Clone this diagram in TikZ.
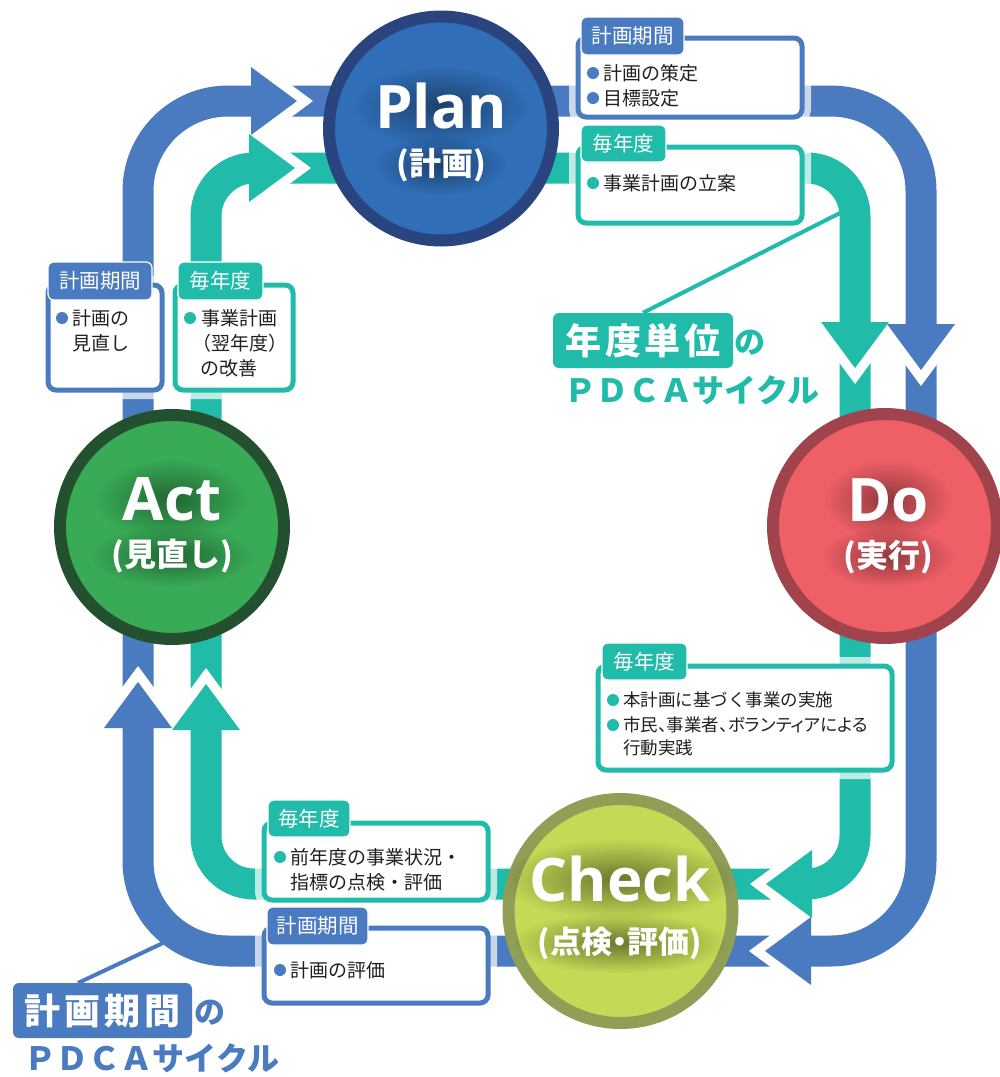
\documentclass[tikz,border=0pt]{standalone}
\usepackage{fontspec}
\setmainfont{Open Sans}
\newfontfamily\jp{Noto Sans CJK JP}
\newfontfamily\jpp[RawFeature=+palt]{Noto Sans CJK JP}
\newfontfamily\lat{Open Sans}
\usetikzlibrary{fadings}
\tikzfading[name=glowfade, inner color=transparent!0, outer color=transparent!100]
\definecolor{bl}{HTML}{4A7ABF}
\definecolor{tl}{HTML}{21BBA9}
\definecolor{planF}{HTML}{306EB7}
\definecolor{planB}{HTML}{29447F}
\definecolor{doF}{HTML}{EE5F66}
\definecolor{doB}{HTML}{A0434C}
\definecolor{actF}{HTML}{39AA56}
\definecolor{actB}{HTML}{23512F}
\definecolor{chkF}{HTML}{C4D955}
\definecolor{chkB}{HTML}{909E56}
\definecolor{ink}{HTML}{231F20}
\newcommand\flowarrow[4]{%
  \begin{scope}[shift={(#2,#3)},rotate=#4]
    \fill[white] (16,0)--(-30,34)--(-30,-34)--cycle;
    \fill[#1] (0,0)--(-46,34)--(-46,-34)--cycle;
  \end{scope}}
% soft dark glow behind a circle caption: coordinate, half width, half height, opacity
\newcommand\glowblob[4]{%
  \fill[black,opacity=#4,path fading=glowfade] ([xshift=-#2pt,yshift=-#3pt]#1) rectangle ([xshift=#2pt,yshift=#3pt]#1);}
\begin{document}
\begin{tikzpicture}[x=1pt,y=-1pt,
  band/.style={draw=#1,line width=31pt},
  pdca/.style={circle,inner sep=0pt,line width=12pt,minimum size=224pt},
  captext/.style={text=white,inner sep=0pt,font=\fontsize{60}{60}\selectfont\lat\bfseries},
  subcap/.style={text=white,inner sep=0pt,font=\fontsize{32}{32}\selectfont\jp\bfseries},
  box/.style={draw=#1,line width=5pt,fill=white,rounded corners=8pt,inner sep=0pt,anchor=north west,
    preaction={draw=white,line width=18pt,opacity=0.7}},
  tab/.style={fill=#1,draw=white,line width=1.2pt,rounded corners=6pt,inner sep=0pt,text=white,
    font=\fontsize{20.5}{20.5}\selectfont\jp},
  txt/.style={anchor=west,inner sep=0pt,text=ink,font=\fontsize{19}{19}\selectfont\jp},
  txts/.style={anchor=west,inner sep=0pt,text=ink,font=\fontsize{17.5}{17.5}\selectfont\jp},
  lbl/.style={fill=#1,rounded corners=6pt,inner sep=0pt,text=white,minimum width=180pt,minimum height=55pt,
    font=\fontsize{36}{36}\selectfont\jp\bfseries},
  lbltxt/.style={text=#1,inner sep=0pt,font=\fontsize{31}{31}\selectfont\jp\bfseries},
  conn/.style={draw=#1,line width=4pt}]
\useasboundingbox (0,0) rectangle (1000,1077);
\fill[white] (0,0) rectangle (1000,1077);
% loops
\draw[band=bl,rounded corners=90pt] (138,101) rectangle (921,951);
\draw[band=tl,rounded corners=48pt] (206,168) rectangle (855,884);
% arrowheads
\flowarrow{bl}{297}{101}{0}
\flowarrow{tl}{295}{168}{0}
\flowarrow{bl}{921}{370}{-90}
\flowarrow{tl}{855}{368}{-90}
\flowarrow{tl}{766}{884}{180}
\flowarrow{bl}{765}{951}{180}
\flowarrow{bl}{138}{682}{90}
\flowarrow{tl}{206}{684}{90}
% circles
\node[pdca,draw=planB,fill=planF] (plan) at (441,128.5) {};
\node[pdca,draw=doB,fill=doF] (do) at (885,526) {};
\node[pdca,draw=chkB,fill=chkF] (check) at (620.5,911) {};
\node[pdca,draw=actB,fill=actF] (act) at (172,527) {};
\coordinate (planT) at (441,106);
\coordinate (planS) at (441,165);
\coordinate (doT) at (888,500);
\coordinate (doS) at (888,557);
\coordinate (chkT) at (620,879);
\coordinate (chkS) at (620,943);
\coordinate (actT) at (172,499);
\coordinate (actS) at (172,556);
\glowblob{planT}{88}{40}{0.4}
\glowblob{planS}{66}{30}{0.4}
\glowblob{doT}{64}{40}{0.4}
\glowblob{doS}{66}{30}{0.4}
\glowblob{chkT}{118}{40}{0.45}
\glowblob{chkS}{108}{30}{0.45}
\glowblob{actT}{76}{40}{0.4}
\glowblob{actS}{82}{30}{0.4}
\node[captext] (planL) at (planT) {Plan};
\node[subcap] (planJ) at (planS) {(計画)};
\node[captext] (doL) at (doT) {Do};
\node[subcap] (doJ) at (doS) {(実行)};
\node[captext] (chkL) at (chkT) {Check};
\node[subcap,font=\fontsize{31}{31}\selectfont\jpp\bfseries] (chkJ) at (chkS) {(点検・評価)};
\node[captext] (actL) at (actT) {Act};
\node[subcap] (actJ) at (actS) {(見直し)};
% boxes
\node[box=bl,minimum width=224pt,minimum height=79pt] (b1) at (575.5,35.5) {};
\node[box=tl,minimum width=224pt,minimum height=76pt] (b2) at (575.5,144.5) {};
\node[box=bl,minimum width=114pt,minimum height=105pt] (b3) at (45.5,282.5) {};
\node[box=tl,minimum width=118pt,minimum height=105pt] (b4) at (172.5,282.5) {};
\node[box=tl,minimum width=294pt,minimum height=104pt] (b5) at (595.5,663.5) {};
\node[box=tl,minimum width=224pt,minimum height=77pt] (b6) at (261.5,820.5) {};
\node[box=bl,minimum width=224pt,minimum height=75pt] (b7) at (261.5,925.5) {};
% tabs
\node[tab=bl,minimum width=103pt,minimum height=38pt] (t1) at (632.5,36) {計画期間};
\node[tab=tl,minimum width=85pt,minimum height=37pt] (t2) at (623.5,143.5) {毎年度};
\node[tab=bl,minimum width=104pt,minimum height=38pt] (t3) at (100,281) {計画期間};
\node[tab=tl,minimum width=85pt,minimum height=38pt] (t4) at (220.5,281) {毎年度};
\node[tab=tl,minimum width=85pt,minimum height=37pt] (t5) at (644.5,661.5) {毎年度};
\node[tab=tl,minimum width=82pt,minimum height=37pt] (t6) at (309,818.5) {毎年度};
\node[tab=bl,minimum width=101pt,minimum height=38pt] (t7) at (317.5,926) {計画期間};
% bullets
\fill[bl] (593,73) circle (6);
\fill[bl] (593,98) circle (6);
\fill[tl] (593,183) circle (6);
\fill[bl] (62,318) circle (6);
\fill[tl] (190,318) circle (6);
\fill[tl] (613,700) circle (6);
\fill[tl] (613,725) circle (6);
\fill[tl] (280,857) circle (6);
\fill[bl] (280,970) circle (6);
% texts
\node[txt] (x1a) at (603,73) {計画の策定};
\node[txt] (x1b) at (603,98) {目標設定};
\node[txt] (x2a) at (603,183) {事業計画の立案};
\node[txt] (x3a) at (72,318) {計画の};
\node[txt] (x3b) at (72,343) {見直し};
\node[txt] (x4a) at (201,318) {事業計画};
\node[txt] (x4b) at (192,343) {（翌年度）};
\node[txt] (x4c) at (200,368) {の改善};
\node[txts] (x5a) at (623,700) {本計画に基づく事業の実施};
\node[txts,font=\fontsize{17.5}{17.5}\selectfont\jpp] (x5b) at (623,725) {市民、事業者、ボランティアによる};
\node[txts] (x5c) at (623,748) {行動実践};
\node[txt] (x6a) at (290,857) {前年度の事業状況・};
\node[txt] (x6b) at (290,882) {指標の点検・評価};
\node[txt] (x7a) at (290,970) {計画の評価};
% labels
\node[lbl=tl] (nendo) at (643,340.5) {年\hspace{4pt}度\hspace{4pt}単\hspace{4pt}位};
\node[lbltxt=tl] (no1) at (750,343) {の};
\node[lbltxt=tl,font=\fontsize{32}{32}\selectfont\jp\bfseries] (cyc1) at (692,390) {ＰＤＣＡサイクル};
\node[lbl=bl,minimum width=179pt] (kikan) at (102.5,1010.5) {計\hspace{4pt}画\hspace{4pt}期\hspace{4pt}間};
\node[lbltxt=bl] (no2) at (210,1013) {の};
\node[lbltxt=bl,font=\fontsize{32}{32}\selectfont\jp\bfseries] (cyc2) at (152,1058) {ＰＤＣＡサイクル};
% connector lines
\coordinate (tlA) at (840,213);
\coordinate (blA) at (163,943);
\coordinate (blB) at (78,983);
\draw[conn=tl] (tlA) -- (nendo.north);
\draw[conn=bl] (blA) -- (blB);
\end{tikzpicture}
\end{document}
